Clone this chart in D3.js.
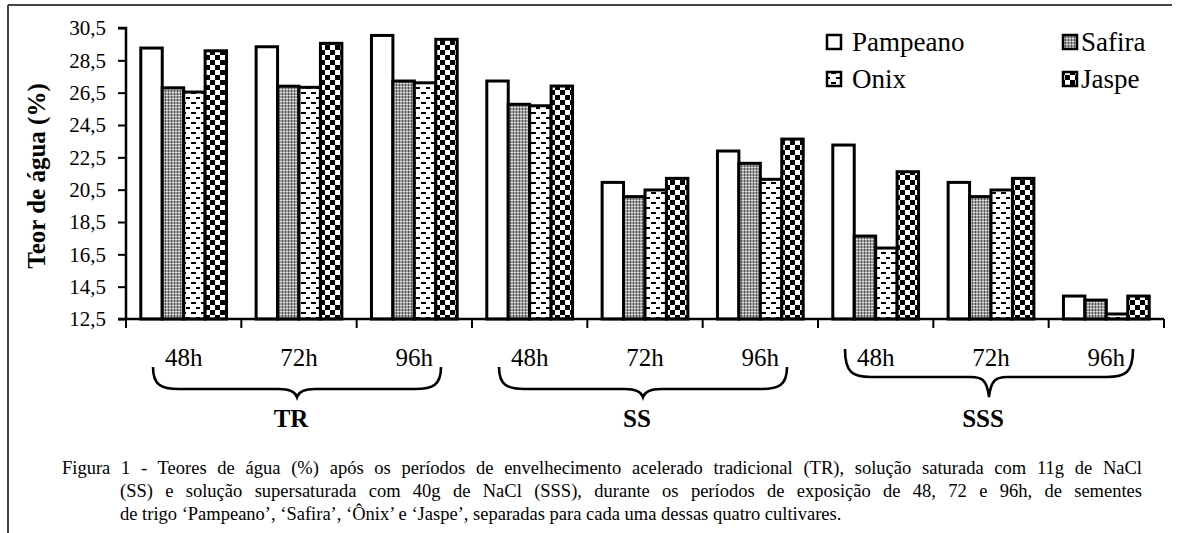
<!DOCTYPE html>
<html><head><meta charset="utf-8">
<script src="https://cdn.jsdelivr.net/npm/d3@7"></script>
<style>
body{margin:0;background:#fff}
svg{display:block}
text{font-family:"Liberation Serif","Times New Roman",serif;fill:#000}
</style>
</head><body>
<svg id="c" width="1178" height="533"></svg>
<script>
// ---------------- data ----------------
const treatments = ["TR", "SS", "SSS"];
const periods = ["48h", "72h", "96h"];
const groups = ["TR 48h","TR 72h","TR 96h","SS 48h","SS 72h","SS 96h","SSS 48h","SSS 72h","SSS 96h"];
const groupPeriod = ["48h","72h","96h","48h","72h","96h","48h","72h","96h"];
const cultivars = ["Pampeano", "Safira", "Onix", "Jaspe"];
const pampeano = [29.26, 29.34, 30.04, 27.22, 20.95, 22.89, 23.26, 20.95, 13.92];
const safira   = [26.80, 26.90, 27.22, 25.78, 20.07, 22.13, 17.63, 20.07, 13.67];
const onix     = [26.54, 26.83, 27.11, 25.69, 20.48, 21.14, 16.89, 20.48, 12.81];
const jaspe    = [29.09, 29.55, 29.80, 26.91, 21.20, 23.63, 21.61, 21.20, 13.92];
const yTicks = [12.5, 14.5, 16.5, 18.5, 20.5, 22.5, 24.5, 26.5, 28.5, 30.5];
const yTickLabels = ["12,5","14,5","16,5","18,5","20,5","22,5","24,5","26,5","28,5","30,5"];
const yTitle = "Teor de água (%)";
const caption = [
  "Figura 1 - Teores de água (%) após os períodos de envelhecimento acelerado tradicional (TR), solução saturada com 11g de NaCl",
  "(SS) e solução supersaturada com 40g de NaCl (SSS), durante os períodos de exposição de 48, 72 e 96h, de sementes",
  "de trigo ‘Pampeano’, ‘Safira’, ‘Ônix’ e ‘Jaspe’, separadas para cada uma dessas quatro cultivares."
];
const legendLabels = ["Pampeano", "Safira", "Onix", "Jaspe"];

// ---------------- layout ----------------
const series = {Pampeano: pampeano, Safira: safira, Onix: onix, Jaspe: jaspe};
const svg = d3.select("#c");
const L = 126, R = 1164, T = 28, B = 319;

// frame
svg.append("line").attr("x1",8).attr("x2",1172).attr("y1",5).attr("y2",5).attr("stroke","#444").attr("stroke-width",2);
svg.append("line").attr("x1",8).attr("x2",8).attr("y1",5).attr("y2",533).attr("stroke","#444").attr("stroke-width",2);

// patterns
const defs = svg.append("defs");
const pS = defs.append("pattern").attr("id","p-Safira").attr("patternUnits","userSpaceOnUse").attr("width",3).attr("height",3);
pS.append("rect").attr("width",3).attr("height",3).attr("fill","#a0a0a0");
pS.append("rect").attr("width",1).attr("height",2).attr("fill","#505050");
pS.append("rect").attr("x",1).attr("y",2).attr("width",2).attr("height",1).attr("fill","#d8d8d8");
const pO = defs.append("pattern").attr("id","p-Onix").attr("patternUnits","userSpaceOnUse").attr("width",10).attr("height",10);
pO.append("rect").attr("width",10).attr("height",10).attr("fill","#fff");
pO.append("rect").attr("x",1).attr("y",2).attr("width",5).attr("height",2).attr("fill","#000");
pO.append("rect").attr("x",6).attr("y",7).attr("width",5).attr("height",2).attr("fill","#000");
const pJ = defs.append("pattern").attr("id","p-Jaspe").attr("patternUnits","userSpaceOnUse").attr("width",10).attr("height",10);
pJ.append("rect").attr("width",10).attr("height",10).attr("fill","#fff");
pJ.append("rect").attr("width",5).attr("height",5).attr("fill","#000");
pJ.append("rect").attr("x",5).attr("y",5).attr("width",5).attr("height",5).attr("fill","#000");
const fillOf = c => c === "Pampeano" ? "#fff" : `url(#p-${c})`;

// scales
const y = d3.scaleLinear().domain([12.5, 30.5]).range([B, T]);
const x0 = d3.scaleBand().domain(groups).range([L, R]);
const x1 = d3.scaleBand().domain(cultivars).range([0, x0.bandwidth()]).paddingInner(0).paddingOuter(0.69);

// bars
const gBars = svg.append("g");
groups.forEach((g, i) => {
  gBars.selectAll(null).data(cultivars).enter().append("rect")
    .attr("x", c => x0(g) + x1(c))
    .attr("y", c => y(series[c][i]))
    .attr("width", x1.bandwidth())
    .attr("height", c => y(12.5) - y(series[c][i]))
    .attr("fill", c => fillOf(c))
    .attr("stroke", "#000").attr("stroke-width", 3);
});

// y axis
const yAxis = d3.axisLeft(y).tickValues(yTicks)
  .tickFormat((d, i) => yTickLabels[i]).tickSize(8).tickPadding(12);
const gy = svg.append("g").attr("transform", `translate(${L},0)`).call(yAxis);
gy.select(".domain").attr("stroke","#000").attr("stroke-width",2.5).attr("d", `M-8,${T}H0V${B}`);
gy.selectAll(".tick line").attr("stroke","#000").attr("stroke-width",2);
gy.selectAll(".tick text").attr("font-size",21).attr("fill","#000");

// x axis
const boundaries = groups.map(g => x0(g)).concat([R]);
const gx = svg.append("g");
gx.append("line").attr("x1",L-8).attr("x2",R).attr("y1",B).attr("y2",B).attr("stroke","#000").attr("stroke-width",2.5);
gx.selectAll(null).data(boundaries).enter().append("line")
  .attr("x1", d => d).attr("x2", d => d).attr("y1", B).attr("y2", B + 9)
  .attr("stroke","#000").attr("stroke-width",2);

// period labels
svg.selectAll(null).data(groups).enter().append("text")
  .attr("x", g => x0(g) + x0.bandwidth()/2)
  .attr("y", 366)
  .attr("text-anchor","middle").attr("font-size",25)
  .text((g, i) => groupPeriod[i]);

// braces & treatment labels
treatments.forEach((t, k) => {
  const first = groups[k*3], last = groups[k*3+2];
  const gx0 = x0(first), gx1 = x0(last) + x0.bandwidth();
  const cx = (gx0 + gx1) / 2 - 2;
  const xl = cx - 144, xr = cx + 144;
  const high = t === "SSS";
  const yT = high ? 349 : 367, yH = high ? 377 : 389, yC = 397;
  const p = d3.path();
  p.moveTo(xl, yT);
  p.bezierCurveTo(xl, yH - 4, xl + 8, yH, xl + 26, yH);
  p.lineTo(cx - 18, yH);
  p.bezierCurveTo(cx - 8, yH, cx - 2, yH + 2, cx, yC);
  p.bezierCurveTo(cx + 2, yH + 2, cx + 8, yH, cx + 18, yH);
  p.lineTo(xr - 26, yH);
  p.bezierCurveTo(xr - 8, yH, xr, yH - 4, xr, yT);
  svg.append("path").attr("d", p.toString()).attr("fill","none").attr("stroke","#000").attr("stroke-width",2.6);
  svg.append("text").attr("x", cx - 6).attr("y", 427).attr("text-anchor","middle")
    .attr("font-size",25).attr("font-weight","bold").text(t);
});

// y title
svg.append("text").attr("transform","translate(45,176) rotate(-90)")
  .attr("text-anchor","middle").attr("font-size",25).attr("font-weight","bold").text(yTitle);

// legend
const legPos = [[827,42],[1063,42],[827,79],[1063,79]];
const legTextX = [852,1081,852,1081];
cultivars.forEach((c, i) => {
  const [lx, ly] = legPos[i];
  svg.append("rect").attr("x", lx).attr("y", ly - 7).attr("width",14).attr("height",14)
    .attr("fill", fillOf(c)).attr("stroke","#000").attr("stroke-width",2.5);
  svg.append("text").attr("x", legTextX[i]).attr("y", ly + 9).attr("font-size",27).text(legendLabels[i]);
});

// caption (justified via word-spacing)
const capX = [62,120,120], capY = [474,497,520], capEnd = [1142,1142,null];
caption.forEach((s, i) => {
  const t = svg.append("text").attr("x", capX[i]).attr("y", capY[i]).attr("font-size",18.5).text(s);
  if (capEnd[i]) {
    const len = t.node().getComputedTextLength();
    const spaces = (s.match(/ /g) || []).length;
    t.attr("word-spacing", ((capEnd[i] - capX[i]) - len) / spaces);
  }
});
</script>
</body></html>
